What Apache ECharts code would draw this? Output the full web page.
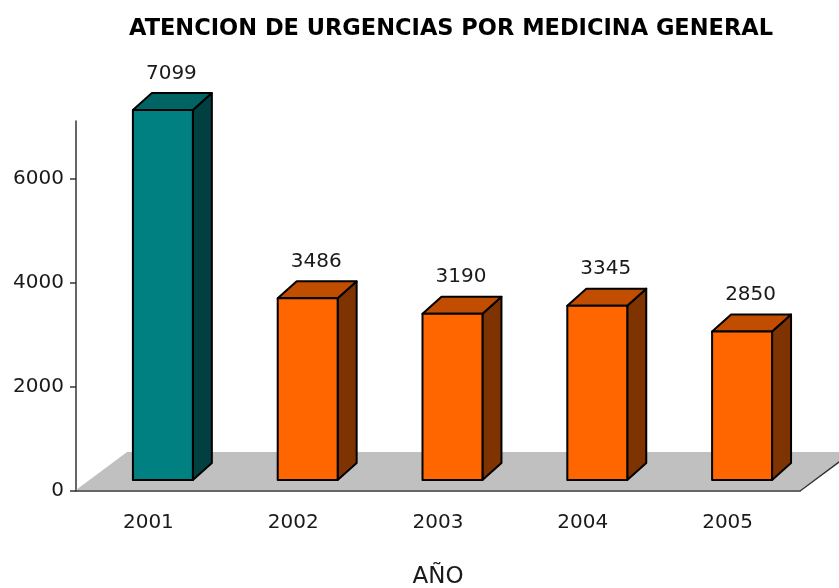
<!DOCTYPE html>
<html>
<head>
<meta charset="utf-8">
<script src="https://cdn.jsdelivr.net/npm/echarts@6/dist/echarts.min.js"></script>
<style>
  html, body { margin: 0; padding: 0; background: #fff; }
  #chart { width: 839px; height: 588px; }
</style>
</head>
<body>
<div id="chart"></div>
<script>
var years = ['2001', '2002', '2003', '2004', '2005'];
var atenciones = [7099, 3486, 3190, 3345, 2850];
var yTicks = [0, 2000, 4000, 6000];

// colores de las caras (frente, tapa, lado)
var caras = {
    verde:   { front: '#008080', top: '#006464', side: '#004040' },
    naranja: { front: '#FF6600', top: '#C04D00', side: '#7F3300' }
};

var fuente = 'DejaVu Sans';
var myChart = echarts.init(document.getElementById('chart'));

function renderPiso(params, api) {
    var cs = params.coordSys;
    var yb = cs.y + cs.height - 1;
    var dx = 51, dy = 38;
    return {
        type: 'group',
        children: [{
            type: 'polygon',
            shape: { points: [[cs.x, yb], [cs.x + cs.width, yb], [cs.x + cs.width + dx, yb - dy], [cs.x + dx, yb - dy]] },
            style: { fill: '#C0C0C0' }
        }, {
            type: 'line',
            shape: { x1: cs.x + cs.width, y1: yb + 1, x2: cs.x + cs.width + dx, y2: yb + 1 - dy },
            style: { stroke: '#333', lineWidth: 1.5 }
        }]
    };
}

function renderBarra(params, api) {
    var idx = api.value(0), val = api.value(1);
    var base = api.coord([idx, 0]);
    var top = api.coord([idx, val]);
    var band = api.size([1, 0])[0];
    var w = band * 0.414, shift = band * 0.1;
    var lift = 11, dx = 19, dy = 17;
    var x0 = base[0] - w / 2 + shift, x1 = x0 + w;
    var yb = base[1] - lift, yt = top[1] - lift;
    var c = idx === 0 ? caras.verde : caras.naranja;
    var borde = { stroke: '#000', lineWidth: 2, lineJoin: 'round' };
    return {
        type: 'group',
        children: [{
            type: 'polygon',
            shape: { points: [[x1, yt], [x1 + dx, yt - dy], [x1 + dx, yb - dy], [x1, yb]] },
            style: Object.assign({ fill: c.side }, borde)
        }, {
            type: 'polygon',
            shape: { points: [[x0, yt], [x1, yt], [x1 + dx, yt - dy], [x0 + dx, yt - dy]] },
            style: Object.assign({ fill: c.top }, borde)
        }, {
            type: 'rect',
            shape: { x: x0, y: yt, width: w, height: yb - yt },
            style: Object.assign({ fill: c.front }, borde)
        }, {
            type: 'text',
            x: (x0 + x1) / 2 + 8.5,
            y: yt - dy - 19.5,
            style: {
                text: String(val), fill: '#1a1a1a', fontFamily: fuente, fontSize: 20,
                align: 'center', verticalAlign: 'middle'
            }
        }]
    };
}

var option = {
    animation: false,
    backgroundColor: '#fff',
    title: {
        text: 'ATENCION DE URGENCIAS POR MEDICINA GENERAL',
        left: 451,
        top: 18,
        padding: 0,
        textAlign: 'center',
        textStyle: { fontFamily: fuente, fontSize: 22.5, fontWeight: 'bold', color: '#000' }
    },
    grid: { left: 76, right: 39, top: 121, bottom: 97, outerBoundsMode: 'none', containLabel: false },
    xAxis: {
        type: 'category',
        data: years,
        boundaryGap: true,
        name: 'AÑO',
        nameLocation: 'middle',
        nameGap: 75,
        nameTextStyle: { fontFamily: fuente, fontSize: 23, color: '#1a1a1a' },
        axisLine: { lineStyle: { color: '#333', width: 1.5 } },
        axisTick: { length: 7, lineStyle: { color: '#333', width: 1.5 } },
        axisLabel: { margin: 22, fontFamily: fuente, fontSize: 20, color: '#1a1a1a' },
        splitLine: { show: false }
    },
    yAxis: {
        type: 'value',
        min: 0,
        max: 7100,
        axisLine: { show: true, lineStyle: { color: '#333', width: 1.5 } },
        axisTick: { show: true, length: 6, customValues: yTicks, lineStyle: { color: '#333', width: 1.5 } },
        axisLabel: {
            margin: 12, customValues: yTicks, fontFamily: fuente, fontSize: 20, color: '#1a1a1a',
            formatter: function (v) { return String(v); }
        },
        splitLine: { show: false }
    },
    series: [{
        type: 'custom',
        renderItem: renderPiso,
        data: [[0, 0]],
        silent: true,
        z: 1
    }, {
        type: 'custom',
        renderItem: renderBarra,
        data: years.map(function (y, i) { return [i, atenciones[i]]; }),
        z: 3
    }]
};
myChart.setOption(option);
</script>
</body>
</html>
